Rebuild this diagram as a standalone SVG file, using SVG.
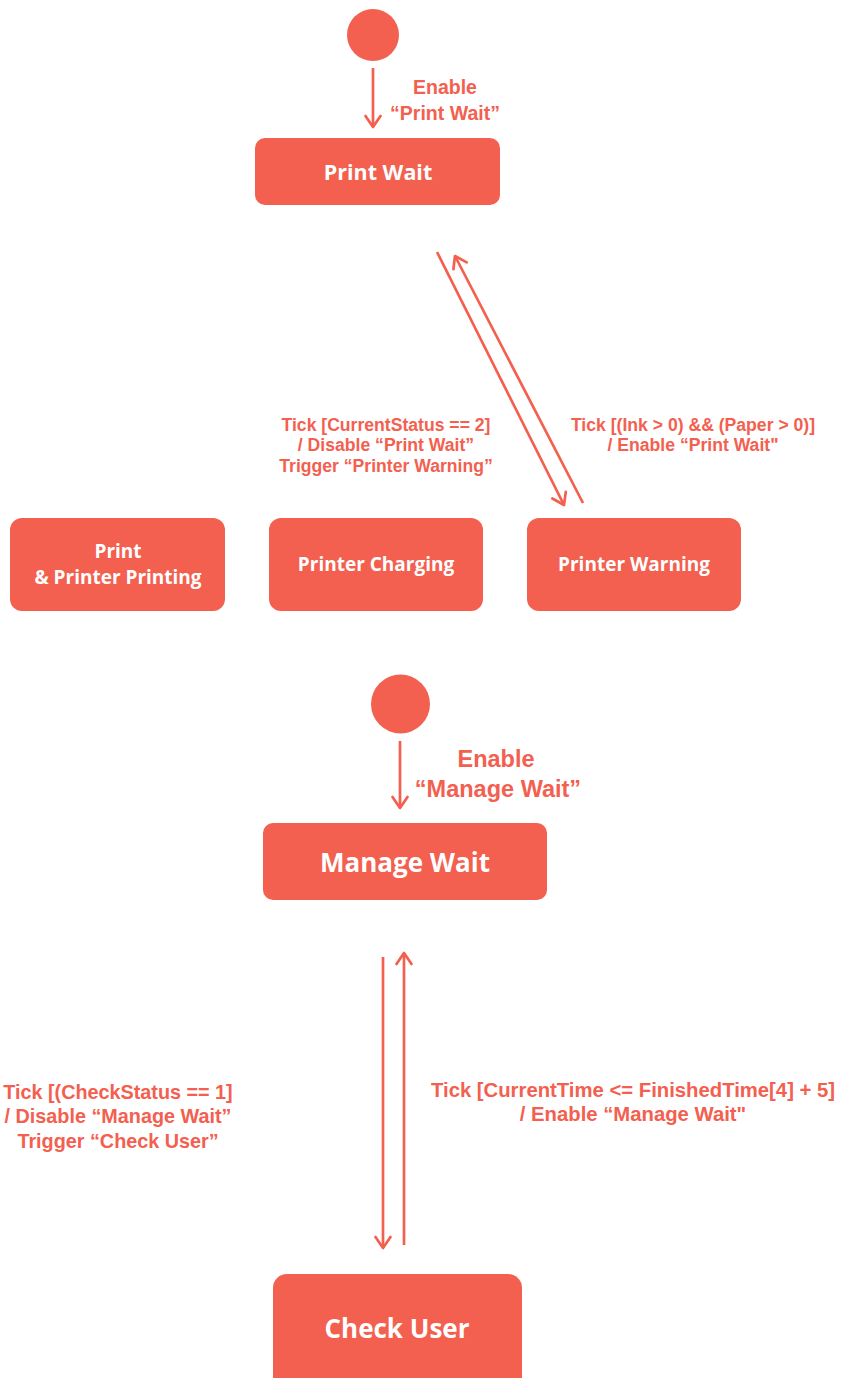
<svg xmlns="http://www.w3.org/2000/svg" width="843" height="1378" viewBox="0 0 843 1378">
<defs>
<style>
.node{fill:#F3604F}
.nt{fill:#fff;font-family:"Open Sans","Noto Sans",sans-serif;font-weight:700;text-anchor:middle}
.lbl{fill:#F3604F;font-family:"Liberation Sans",Arial,sans-serif;font-weight:700;text-anchor:middle}
.edge{stroke:#F3604F;stroke-width:2.7;fill:none;marker-end:url(#arr)}
</style>
<marker id="arr" markerUnits="userSpaceOnUse" markerWidth="18" markerHeight="18" viewBox="0 0 18 18" refX="15" refY="9" orient="auto">
<path d="M4,1.5 L15,9 L4,16.5" fill="none" stroke="#F3604F" stroke-width="2.7" stroke-linecap="round" stroke-linejoin="round"/>
</marker>
</defs>
<rect width="843" height="1378" fill="#fff"/>

<g id="start1"><circle class="node" cx="373" cy="35" r="26"/></g>
<g id="printWait"><rect class="node" x="255" y="138" width="245" height="67" rx="10"/><text class="nt" x="378" y="180" font-size="21.5">Print Wait</text></g>
<g id="printPrinting"><rect class="node" x="10" y="518" width="215" height="93" rx="12"/><text class="nt" x="118" y="558" font-size="19">Print</text><text class="nt" x="118" y="584" font-size="19">&amp; Printer Printing</text></g>
<g id="printerCharging"><rect class="node" x="269" y="518" width="214" height="93" rx="12"/><text class="nt" x="376" y="571" font-size="19">Printer Charging</text></g>
<g id="printerWarning"><rect class="node" x="527" y="518" width="214" height="93" rx="12"/><text class="nt" x="634" y="571" font-size="19">Printer Warning</text></g>

<g id="start2"><circle class="node" cx="400.5" cy="704" r="29.5"/></g>
<g id="manageWait"><rect class="node" x="263" y="823" width="284" height="77" rx="10"/><text class="nt" x="405" y="872" font-size="26">Manage Wait</text></g>
<g id="checkUser"><rect class="node" x="273" y="1274" width="249" height="120" rx="14"/><text class="nt" x="397" y="1338" font-size="26">Check User</text></g>

<g id="connectors">
<line class="edge" x1="373" y1="68" x2="373" y2="127"/>
<line class="edge" x1="437" y1="252" x2="564" y2="505"/>
<line class="edge" x1="583" y1="503" x2="455" y2="256"/>
<line class="edge" x1="400" y1="741" x2="400" y2="808"/>
<line class="edge" x1="383" y1="957" x2="383" y2="1248"/>
<line class="edge" x1="404" y1="1245" x2="404" y2="953"/>
</g>

<g id="labels">
<text class="lbl" x="445" y="94" font-size="19.5">Enable</text>
<text class="lbl" x="445" y="120" font-size="19.5">“Print Wait”</text>
<text class="lbl" x="386" y="431" font-size="17.6">Tick [CurrentStatus == 2]</text>
<text class="lbl" x="386" y="451" font-size="17.6">/ Disable “Print Wait”</text>
<text class="lbl" x="386" y="472" font-size="17.6">Trigger “Printer Warning”</text>
<text class="lbl" x="693" y="431" font-size="17.6">Tick [(Ink &gt; 0) &amp;&amp; (Paper &gt; 0)]</text>
<text class="lbl" x="693" y="451" font-size="17.6">/ Enable “Print Wait"</text>
<text class="lbl" x="496" y="767" font-size="23.5">Enable</text>
<text class="lbl" x="498" y="797" font-size="23.5">“Manage Wait”</text>
<text class="lbl" x="118" y="1099" font-size="19.8">Tick [(CheckStatus == 1]</text>
<text class="lbl" x="118" y="1123" font-size="19.8">/ Disable “Manage Wait”</text>
<text class="lbl" x="118" y="1148" font-size="19.8">Trigger “Check User”</text>
<text class="lbl" x="633" y="1097" font-size="20.3">Tick [CurrentTime &lt;= FinishedTime[4] + 5]</text>
<text class="lbl" x="633" y="1121" font-size="20.3">/ Enable “Manage Wait"</text>
</g>
</svg>
